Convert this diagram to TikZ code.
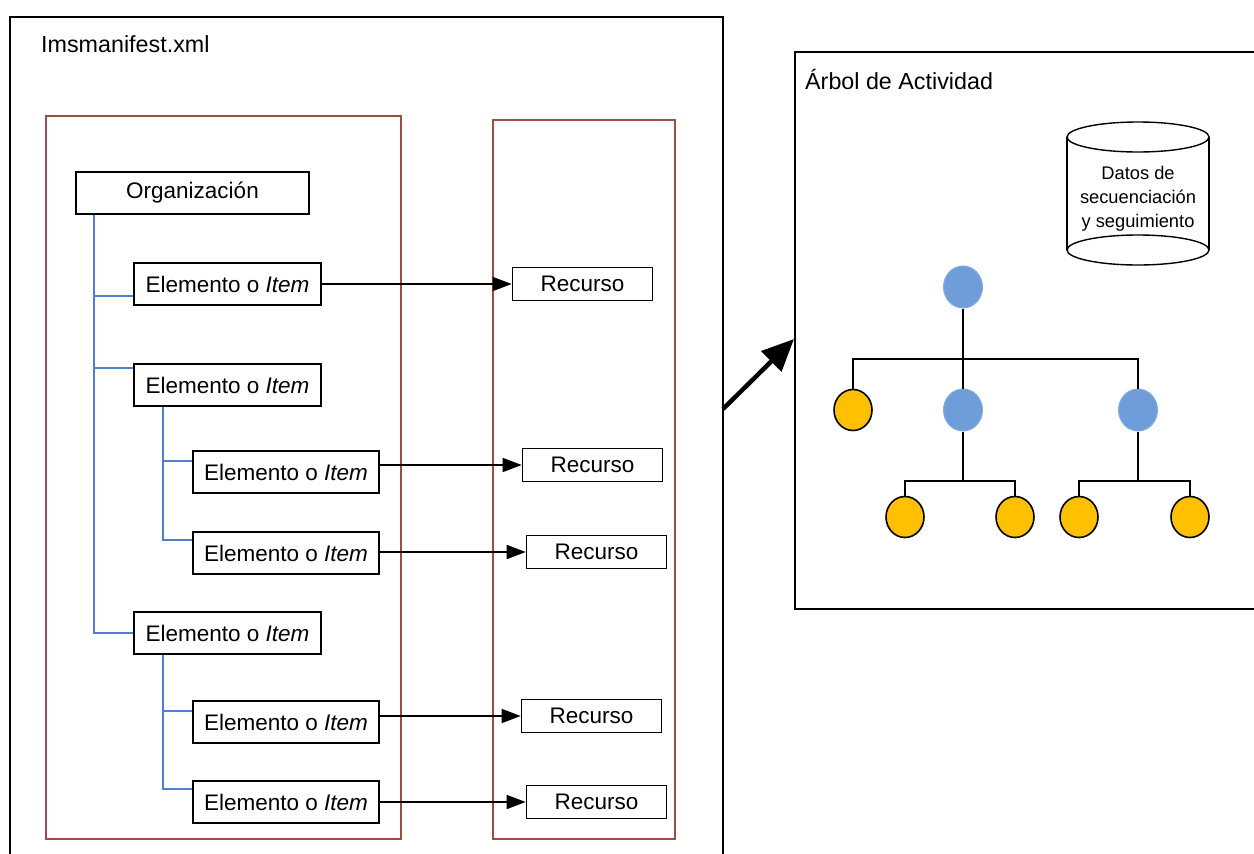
\documentclass[tikz,border=0pt]{standalone}
\usepackage{fontspec}
\setmainfont{Liberation Sans}
\usepackage{xcolor}
\usetikzlibrary{shapes,arrows.meta,positioning,calc}
\definecolor{marron}{RGB}{155,78,72}
\definecolor{azul}{RGB}{80,128,205}
\definecolor{azulnodo}{RGB}{110,157,218}
\definecolor{amarillo}{RGB}{255,192,0}
\tikzset{
block/.style = {draw, fill=white, rectangle, line width=1.6pt, minimum height=42pt, minimum width=187pt, inner sep=0pt, font=\fontsize{22.5}{27}\selectfont},
recurso/.style = {block, minimum height=33pt, minimum width=140pt},
tmp/.style  = {coordinate},
rama/.style = {draw=azul, line width=1.6pt},
flecha/.style = {->, line width=1.6pt},
marco/.style = {draw, line width=1.6pt},
grupo/.style = {draw=marron, line width=1.6pt},
linea/.style = {draw, line width=1.4pt},
nodoazul/.style = {ellipse, fill=azulnodo, draw=azulnodo!85!white, line width=1pt, minimum width=39pt, minimum height=42pt, inner sep=0pt},
hoja/.style = {ellipse, fill=amarillo, draw, line width=1.6pt, minimum width=38pt, minimum height=41pt, inner sep=0pt},
titulo/.style = {anchor=west, inner sep=0pt, font=\fontsize{23.3}{27}\selectfont}
}
\begin{document}
\begin{tikzpicture}[x=1pt,y=-1pt,>={Triangle[length=19pt,width=14pt]}]
    \useasboundingbox (0,0) rectangle (1254,854);
    \draw [marco] (10,854) |- (723,17) -- (723,854);
    \node [titulo] (manifest) at (41,44) {Imsmanifest.xml};
    \draw [grupo] (46,116) rectangle (401,839);
    \draw [grupo] (493,120) rectangle (675,839);
    \node [block, minimum width=233pt] (org) at (192.5,193) {Organización};
    \node [block] (e1) at (227.5,284) {Elemento o \textit{Item}};
    \node [block] (e2) at (227.5,385) {Elemento o \textit{Item}};
    \node [block, minimum width=186pt] (e3) at (286,472) {Elemento o \textit{Item}};
    \node [block, minimum width=186pt] (e4) at (286,553) {Elemento o \textit{Item}};
    \node [block] (e5) at (227.5,633) {Elemento o \textit{Item}};
    \node [block, minimum width=186pt] (e6) at (286,722) {Elemento o \textit{Item}};
    \node [block, minimum width=186pt] (e7) at (286,802) {Elemento o \textit{Item}};
    \draw [rama] ([xshift=19pt]org.south west) |- ([yshift=-12pt]e1.west);
    \draw [rama] ([xshift=19pt]org.south west) |- ([yshift=17pt]e2.west);
    \draw [rama] ([xshift=19pt]org.south west) |- (e5.west);
    \draw [rama] ([xshift=30pt]e2.south west) |- ([yshift=11pt]e3.west);
    \draw [rama] ([xshift=30pt]e2.south west) |- ([yshift=13pt]e4.west);
    \draw [rama] ([xshift=30pt]e5.south west) |- ([yshift=11pt]e6.west);
    \draw [rama] ([xshift=30pt]e5.south west) |- ([yshift=13pt]e7.west);
    \node [recurso] (r1) at (582.5,284) {Recurso};
    \draw [flecha] (e1.east |- r1.west) -- (r1.west);
    \node [recurso] (r2) at (592.5,465) {Recurso};
    \draw [flecha] (e3.east |- r2.west) -- (r2.west);
    \node [recurso] (r3) at (596.5,552) {Recurso};
    \draw [flecha] (e4.east |- r3.west) -- (r3.west);
    \node [recurso] (r4) at (591.5,716) {Recurso};
    \draw [flecha] (e6.east |- r4.west) -- (r4.west);
    \node [recurso] (r5) at (596.5,802) {Recurso};
    \draw [flecha] (e7.east |- r5.west) -- (r5.west);
    \coordinate [tmp] (salida) at (723,409);
    \coordinate [tmp] (entrada) at (794,339);
    \draw [-{Triangle[length=32pt,width=28pt]}, line width=4.5pt] (salida) -- (entrada);
    \draw [marco] (1254,52) -| (795,609) -- (1254,609);
    \node [titulo] (arbol) at (805,80) {Árbol de Actividad};
    \draw [marco, line width=1.4pt] (1067,137) -- (1067,250) (1209,137) -- (1209,250);
    \draw [marco, line width=1.4pt] (1138,137) ellipse [x radius=71, y radius=15];
    \draw [marco, line width=1.4pt, fill=white] (1138,250) ellipse [x radius=71, y radius=15];
    \node [align=center, inner sep=0pt, font=\fontsize{18.3}{24}\selectfont] (datos) at (1138,199) {Datos de\\secuenciación\\y seguimiento};
    \node [nodoazul] (raiz) at (963,287) {};
    \node [hoja] (h1) at (853,410) {};
    \node [nodoazul] (n1) at (963,410) {};
    \node [nodoazul] (n2) at (1138,410) {};
    \node [hoja] (h2) at (905,517) {};
    \node [hoja] (h3) at (1015,517) {};
    \node [hoja] (h4) at (1079,517) {};
    \node [hoja] (h5) at (1190,517) {};
    \coordinate [tmp] (barra) at (963,359);
    \coordinate [tmp] (barra2) at (963,481);
    \draw [linea] (raiz) -- (n1);
    \draw [linea] (h1.north) |- (n2 |- barra) -- (n2.north);
    \draw [linea] (n1) -- (n1 |- barra2);
    \draw [linea] (h2.north) |- (h3 |- barra2) -- (h3.north);
    \draw [linea] (n2) -- (n2 |- barra2);
    \draw [linea] (h4.north) |- (h5 |- barra2) -- (h5.north);
\end{tikzpicture}
\end{document}
